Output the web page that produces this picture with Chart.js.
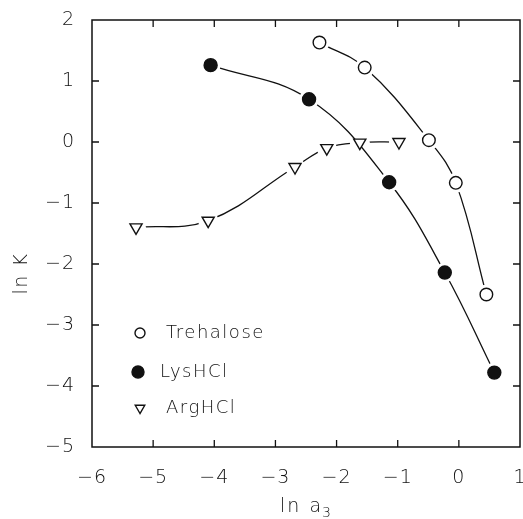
<!DOCTYPE html>
<html>
<head>
<meta charset="utf-8">
<script src="https://cdn.jsdelivr.net/npm/chart.js@4"></script>
<style>
  html, body { margin: 0; padding: 0; background: #fff; }
  #wrap { width: 523px; height: 519px; }
</style>
</head>
<body>
<div id="wrap"><canvas id="lnkChart"></canvas></div>
<script>
// ln a3 / ln K readings
var treX = [-2.28, -1.54, -0.49, -0.05, 0.45];
var treY = [1.63, 1.22, 0.03, -0.67, -2.50];
var lysX = [-4.06, -2.45, -1.14, -0.23, 0.58];
var lysY = [1.26, 0.70, -0.66, -2.14, -3.78];
var argX = [-5.28, -4.10, -2.68, -2.16, -1.62, -0.98];
var argY = [-1.40, -1.29, -0.41, -0.10, -0.01, 0.00];

var seriesNames = ['Trehalose', 'LysHCl', 'ArgHCl'];
var xTitle = 'ln a';
var xTitleSub = '3';
var yTitle = 'ln K';

var ink = '#111';
var fontFamily = '"DejaVu Sans", sans-serif';

function toPoints(xs, ys) {
    return xs.map(function(x, i) { return {x: x, y: ys[i]}; });
}

var treData = toPoints(treX, treY);
var lysData = toPoints(lysX, lysY);
var argData = toPoints(argX, argY);

function lineSet(data, order) {
    return {
        data: data,
        showLine: true,
        borderColor: ink,
        borderWidth: 1.3,
        tension: 0.4,
        pointRadius: 0,
        order: order
    };
}

function haloSet(data, order) {
    return {
        data: data,
        showLine: false,
        pointRadius: 10,
        pointBackgroundColor: '#fff',
        pointBorderWidth: 0,
        pointBorderColor: '#fff',
        order: order
    };
}

// markers: open circle, filled circle, down triangle
var markers = [
    {pointStyle: 'circle', radius: 6.3, fill: '#fff', rotation: 0},
    {pointStyle: 'circle', radius: 6.5, fill: ink, rotation: 0},
    {pointStyle: 'triangle', radius: 7, fill: '#fff', rotation: 180}
];

function markerSet(data, m, order) {
    return {
        data: data,
        showLine: false,
        pointStyle: m.pointStyle,
        pointRotation: m.rotation,
        pointRadius: m.radius,
        pointBackgroundColor: m.fill,
        pointBorderColor: ink,
        pointBorderWidth: 1.4,
        order: order
    };
}

var framePlugin = {
    id: 'frame',
    beforeDraw: function(chart) {
        chart.ctx.letterSpacing = '1px';
    },
    afterDraw: function(chart) {
        var c = chart.ctx;
        var a = chart.chartArea;
        var xs = chart.scales.x, ys = chart.scales.y;
        var tick = 7;
        c.save();
        c.strokeStyle = ink;
        c.lineWidth = 1.5;
        c.strokeRect(a.left, a.top, a.right - a.left, a.bottom - a.top);
        c.lineWidth = 1.3;
        c.beginPath();
        xs.ticks.forEach(function(t) {
            var px = xs.getPixelForValue(t.value);
            if (Math.abs(px - a.left) < 2 || Math.abs(px - a.right) < 2) return;
            c.moveTo(px, a.bottom); c.lineTo(px, a.bottom - tick);
            c.moveTo(px, a.top); c.lineTo(px, a.top + tick);
        });
        ys.ticks.forEach(function(t) {
            var py = ys.getPixelForValue(t.value);
            if (Math.abs(py - a.top) < 2 || Math.abs(py - a.bottom) < 2) return;
            c.moveTo(a.left, py); c.lineTo(a.left + tick, py);
            c.moveTo(a.right, py); c.lineTo(a.right - tick, py);
        });
        c.stroke();

        // legend inside plot
        c.fillStyle = ink;
        c.font = '300 18px ' + fontFamily;
        c.letterSpacing = '1.5px';
        c.textBaseline = 'middle';
        c.textAlign = 'left';
        var rows = [
            {dy: 114, mx: 48, tx: 74, r: 5, m: markers[0]},
            {dy: 75, mx: 46, tx: 68, r: 6, m: markers[1]},
            {dy: 39, mx: 48, tx: 74, r: 5.5, m: markers[2]}
        ];
        rows.forEach(function(row, i) {
            var y = a.bottom - row.dy;
            c.fillStyle = row.m.fill;
            c.strokeStyle = ink;
            c.lineWidth = 1.4;
            Chart.helpers.drawPoint(c, {pointStyle: row.m.pointStyle, rotation: row.m.rotation, radius: row.r, borderWidth: 1.4}, a.left + row.mx, y);
            c.fillStyle = ink;
            c.fillText(seriesNames[i], a.left + row.tx, y);
        });

        // x title with subscript
        c.textBaseline = 'alphabetic';
        c.font = '300 19px ' + fontFamily;
        c.letterSpacing = '2px';
        var mainW = c.measureText(xTitle).width;
        c.font = '300 14px ' + fontFamily;
        c.letterSpacing = '0px';
        var subW = c.measureText(xTitleSub).width;
        var x0 = (a.left + a.right) / 2 - (mainW + subW) / 2;
        c.textAlign = 'left';
        c.font = '300 19px ' + fontFamily;
        c.letterSpacing = '2px';
        c.fillText(xTitle, x0, a.bottom + 65);
        c.font = '300 14px ' + fontFamily;
        c.letterSpacing = '0px';
        c.fillText(xTitleSub, x0 + mainW - 1, a.bottom + 70);

        // y title
        c.font = '300 19px ' + fontFamily;
        c.letterSpacing = '1.5px';
        c.textAlign = 'center';
        c.translate(27, (a.top + a.bottom) / 2 + 40);
        c.rotate(-Math.PI / 2);
        c.fillText(yTitle, 0, 0);
        c.restore();
    }
};

function signed(v) {
    return v < 0 ? '\u2212' + Math.abs(v) : String(v);
}

var ctx = document.getElementById('lnkChart').getContext('2d');
var lnkChart = new Chart(ctx, {
    type: 'scatter',
    data: {
        datasets: [
            lineSet(argData, 9),
            haloSet(argData, 8),
            lineSet(lysData, 7),
            haloSet(lysData, 6),
            lineSet(treData, 5),
            haloSet(treData, 4),
            markerSet(treData, markers[0], 3),
            markerSet(lysData, markers[1], 2),
            markerSet(argData, markers[2], 1)
        ]
    },
    options: {
        responsive: true,
        maintainAspectRatio: false,
        animation: false,
        layout: { autoPadding: false, padding: { top: 20, right: 3, left: 0, bottom: 0 } },
        plugins: {
            legend: { display: false },
            tooltip: { enabled: false }
        },
        scales: {
            x: {
                type: 'linear',
                min: -6,
                max: 1,
                afterFit: function(scale) {
                    scale.height = 72;
                    scale.paddingLeft = 0;
                    scale.paddingRight = 0;
                },
                grid: { display: false },
                border: { display: false },
                ticks: {
                    stepSize: 1,
                    padding: 12,
                    color: ink,
                    maxRotation: 0,
                    font: { family: fontFamily, size: 19, weight: 300 },
                    callback: signed
                }
            },
            y: {
                type: 'linear',
                min: -5,
                max: 2,
                afterFit: function(scale) {
                    scale.width = 92;
                    scale.paddingTop = 0;
                    scale.paddingBottom = 0;
                },
                grid: { display: false },
                border: { display: false },
                ticks: {
                    stepSize: 1,
                    padding: 9,
                    color: ink,
                    font: { family: fontFamily, size: 19, weight: 300 },
                    callback: signed
                }
            }
        }
    },
    plugins: [framePlugin]
});
</script>
</body>
</html>
